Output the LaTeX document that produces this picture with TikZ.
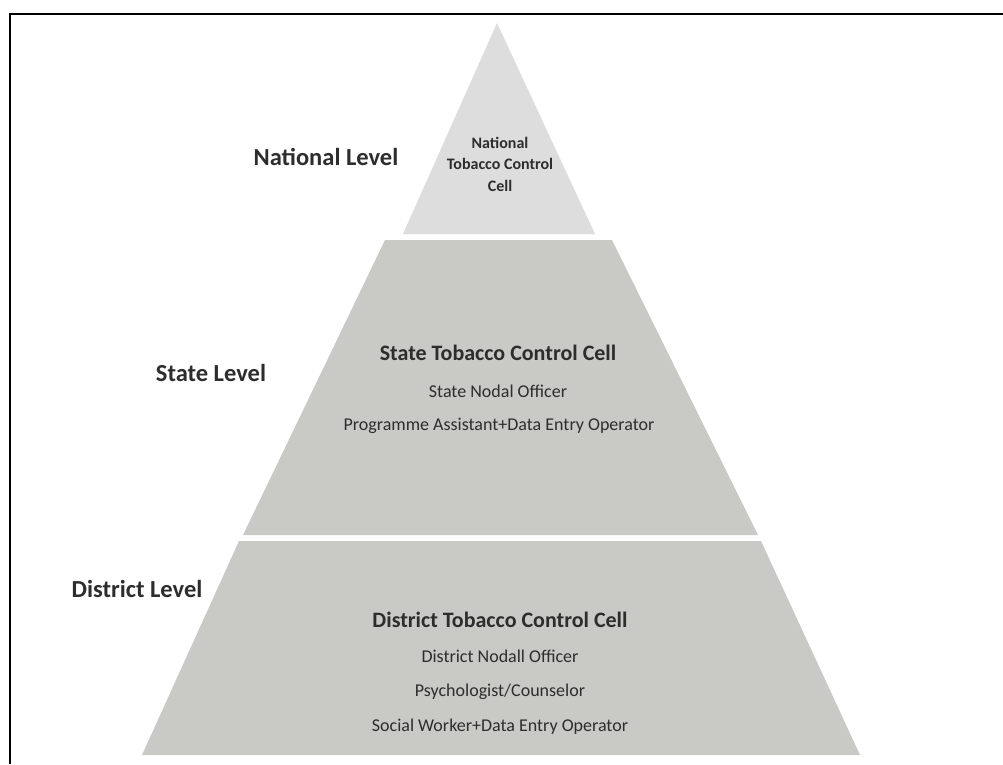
\documentclass[tikz,border=0pt]{standalone}
\usepackage{fontspec}
\setmainfont{Carlito}
\definecolor{toplayer}{RGB}{221,221,221}
\definecolor{layer}{RGB}{201,201,197}
\definecolor{txt}{RGB}{45,45,45}
\begin{document}
\begin{tikzpicture}[x=1pt,y=-1pt,
  levellabel/.style={font=\bfseries\fontsize{24.5}{28}\selectfont, text=txt, anchor=center, inner sep=0pt},
  celltitle/.style={font=\bfseries\fontsize{22}{26}\selectfont, text=txt, anchor=center, inner sep=0pt},
  cellitem/.style={font=\fontsize{18}{21}\selectfont, text=txt, anchor=center, inner sep=0pt},
  nattext/.style={font=\bfseries\fontsize{16}{21.5}\selectfont, text=txt, align=center, anchor=center, inner sep=0pt}]
\useasboundingbox (0,0) rectangle (1003,764);
\fill[white] (0,0) rectangle (1003,764);
% frame
\draw[line width=2pt, black] (1003,14) -- (10,14) -- (10,764);
% layers
\fill[toplayer] (497,23) -- (595,234) -- (403,234) -- cycle;
\fill[layer] (385,240) -- (612,240) -- (758,535) -- (243,535) -- cycle;
\fill[layer] (239,541) -- (761,541) -- (860,755) -- (142,755) -- cycle;
% level labels
\node[levellabel] (natlev) at (326,157) {National Level};
\node[levellabel] (statelev) at (211,373) {State Level};
\node[levellabel] (distlev) at (137,589) {District Level};
% national cell
\node[nattext] (natcell) at (500,164) {National\\Tobacco Control\\Cell};
% state cell
\node[celltitle] (statecell) at (498,353) {State Tobacco Control Cell};
\node[cellitem] (sno) at (498,391) {State Nodal Officer};
\node[cellitem] (pa) at (499,426) {Programme Assistant+Data Entry Operator};
% district cell
\node[celltitle] (distcell) at (500,620) {District Tobacco Control Cell};
\node[cellitem] (dno) at (500,656) {District Nodall Officer};
\node[cellitem] (psy) at (500,692) {Psychologist/Counselor};
\node[cellitem] (sw) at (500,727) {Social Worker+Data Entry Operator};
\end{tikzpicture}
\end{document}
